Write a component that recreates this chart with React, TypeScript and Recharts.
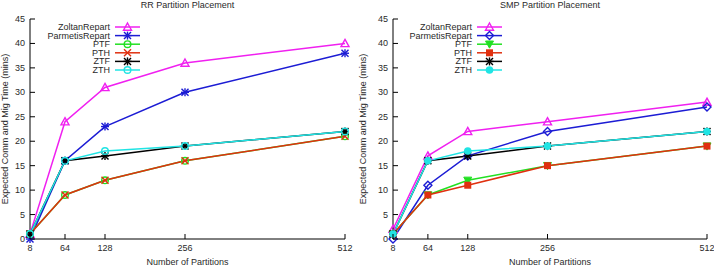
import React from "react";
import { LineChart, Line, XAxis, YAxis } from "recharts";

// partition counts on the x axis
const partitions = [8, 64, 128, 256, 512];
const yTicks = [0, 5, 10, 15, 20, 25, 30, 35, 40, 45];
const seriesNames = ["ZoltanRepart", "ParmetisRepart", "PTF", "PTH", "ZTF", "ZTH"];

// RR placement, minutes
const rrZoltan = [1, 24, 31, 36, 40];
const rrParmetis = [0, 16, 23, 30, 38];
const rrPTF = [1, 9, 12, 16, 21];
const rrPTH = [1, 9, 12, 16, 21];
const rrZTF = [1, 16, 17, 19, 22];
const rrZTH = [1, 16, 18, 19, 22];

// SMP placement, minutes
const smpZoltan = [2, 17, 22, 24, 28];
const smpParmetis = [0, 11, 17, 22, 27];
const smpPTF = [1, 9, 12, 15, 19];
const smpPTH = [1, 9, 11, 15, 19];
const smpZTF = [1, 16, 17, 19, 22];
const smpZTH = [1, 16, 18, 19, 22];

const colors = ["#f020f0", "#1c1cd4", "#22e022", "#e0300f", "#000000", "#20e4e4"];
const rrShapes = ["triangle", "star", "circle", "cross", "star", "circle"];
const smpShapes = ["triangle", "diamond", "triDownFill", "squareFill", "star", "circleFill"];

const FONT = "'Liberation Sans', Arial, sans-serif";
const TEXT = "#2a2a2a";

function buildRows(series: number[][]) {
  return partitions.map((p, i) => {
    const row: Record<string, number> = { p };
    seriesNames.forEach((name, k) => {
      row[name] = series[k][i];
    });
    return row;
  });
}

const rrData = buildRows([rrZoltan, rrParmetis, rrPTF, rrPTH, rrZTF, rrZTH]);
const smpData = buildRows([smpZoltan, smpParmetis, smpPTF, smpPTH, smpZTF, smpZTH]);

function Marker({ shape, cx, cy, color }: { shape: string; cx: number; cy: number; color: string }) {
  const r = 4;
  const sw = 1.4;
  switch (shape) {
    case "triangle":
      return (
        <polygon
          points={`${cx},${cy - r} ${cx + r},${cy + r * 0.8} ${cx - r},${cy + r * 0.8}`}
          fill="none"
          stroke={color}
          strokeWidth={sw}
        />
      );
    case "triDownFill":
      return (
        <polygon
          points={`${cx},${cy + r} ${cx + r},${cy - r * 0.8} ${cx - r},${cy - r * 0.8}`}
          fill={color}
          stroke={color}
          strokeWidth={1}
        />
      );
    case "diamond":
      return (
        <polygon
          points={`${cx},${cy - r} ${cx + r},${cy} ${cx},${cy + r} ${cx - r},${cy}`}
          fill="none"
          stroke={color}
          strokeWidth={sw}
        />
      );
    case "squareFill":
      return <rect x={cx - 3.5} y={cy - 3.5} width={7} height={7} fill={color} />;
    case "circle":
      return <circle cx={cx} cy={cy} r={3.3} fill="none" stroke={color} strokeWidth={sw} />;
    case "circleFill":
      return <circle cx={cx} cy={cy} r={3.8} fill={color} />;
    case "cross":
      return (
        <g stroke={color} strokeWidth={sw}>
          <line x1={cx - 3.5} y1={cy - 3.5} x2={cx + 3.5} y2={cy + 3.5} />
          <line x1={cx - 3.5} y1={cy + 3.5} x2={cx + 3.5} y2={cy - 3.5} />
        </g>
      );
    default:
      // asterisk: plus over cross
      return (
        <g stroke={color} strokeWidth={sw}>
          <line x1={cx - 3.5} y1={cy - 3.5} x2={cx + 3.5} y2={cy + 3.5} />
          <line x1={cx - 3.5} y1={cy + 3.5} x2={cx + 3.5} y2={cy - 3.5} />
          <line x1={cx - 4} y1={cy} x2={cx + 4} y2={cy} />
          <line x1={cx} y1={cy - 4} x2={cx} y2={cy + 4} />
        </g>
      );
  }
}

const XTick = (props: any) => {
  const { x, y, payload } = props;
  return (
    <g>
      <line x1={x} x2={x} y1={y} y2={y - 5} stroke="#000" />
      <text x={x} y={y + 12} textAnchor="middle" fontSize={9} fontFamily={FONT} fill={TEXT}>
        {payload.value}
      </text>
    </g>
  );
};

const YTick = (props: any) => {
  const { x, y, payload } = props;
  return (
    <g>
      <line x1={x} x2={x + 5} y1={y} y2={y} stroke="#000" />
      <text x={x - 5} y={y + 3} textAnchor="end" fontSize={9} fontFamily={FONT} fill={TEXT}>
        {payload.value}
      </text>
    </g>
  );
};

function Panel({
  title,
  data,
  shapes,
  axisWidth,
  rightMargin,
  labelOffset,
  legendRight,
}: {
  title: string;
  data: Record<string, number>[];
  shapes: string[];
  axisWidth: number;
  rightMargin: number;
  labelOffset: number;
  legendRight: number;
}) {
  const width = 357;
  const height = 267;
  const plotCenter = axisWidth + (width - axisWidth - rightMargin) / 2;
  return (
    <div style={{ position: "relative", width, height }}>
      <div
        style={{
          position: "absolute",
          top: 0,
          left: plotCenter - 100,
          width: 200,
          textAlign: "center",
          fontSize: 9,
          lineHeight: "11px",
          fontFamily: FONT,
          color: TEXT,
        }}
      >
        {title}
      </div>
      <LineChart
        width={width}
        height={height}
        data={data}
        margin={{ top: 19, right: rightMargin, left: 0, bottom: 0 }}
      >
        <XAxis
          dataKey="p"
          type="number"
          domain={[8, 512]}
          ticks={partitions}
          interval={0}
          height={28}
          tickSize={0}
          tickMargin={0}
          tickLine={false}
          axisLine={{ stroke: "#000" }}
          tick={<XTick />}
          label={{
            content: (p: any) => (
              <text
                x={p.viewBox.x + p.viewBox.width / 2}
                y={p.viewBox.y + 26}
                textAnchor="middle"
                fontSize={9}
                fontFamily={FONT}
                fill={TEXT}
              >
                Number of Partitions
              </text>
            ),
          }}
        />
        <YAxis
          type="number"
          domain={[0, 45]}
          ticks={yTicks}
          interval={0}
          width={axisWidth}
          tickSize={0}
          tickMargin={0}
          tickLine={false}
          axisLine={{ stroke: "#000" }}
          tick={<YTick />}
          label={{
            content: (p: any) => {
              const cx = p.viewBox.x + labelOffset;
              const cy = p.viewBox.y + p.viewBox.height / 2;
              return (
                <text
                  x={cx}
                  y={cy}
                  transform={`rotate(-90, ${cx}, ${cy})`}
                  textAnchor="middle"
                  dominantBaseline="central"
                  fontSize={9}
                  fontFamily={FONT}
                  fill={TEXT}
                >
                  Expected Comm and Mig Time (mins)
                </text>
              );
            },
          }}
        />
        {seriesNames.map((name, k) => (
          <Line
            key={name}
            type="linear"
            dataKey={name}
            stroke={colors[k]}
            strokeWidth={1.5}
            isAnimationActive={false}
            activeDot={false}
            dot={(d: any) => (
              <Marker key={`${name}-${d.index}`} shape={shapes[k]} cx={d.cx} cy={d.cy} color={colors[k]} />
            )}
          />
        ))}
      </LineChart>
      <svg
        width={width}
        height={height}
        style={{ position: "absolute", left: 0, top: 0, pointerEvents: "none" }}
      >
        {seriesNames.map((name, k) => {
          const y = 27 + k * 8.6;
          return (
            <g key={name}>
              <text
                x={legendRight}
                y={y}
                textAnchor="end"
                dominantBaseline="central"
                fontSize={9}
                fontFamily={FONT}
                fill={TEXT}
              >
                {name}
              </text>
              <line x1={legendRight + 5} x2={legendRight + 30} y1={y} y2={y} stroke={colors[k]} strokeWidth={1.5} />
              <Marker shape={shapes[k]} cx={legendRight + 17.5} cy={y} color={colors[k]} />
            </g>
          );
        })}
      </svg>
    </div>
  );
}

export default function App() {
  return (
    <div
      style={{
        position: "absolute",
        left: 0,
        top: 0,
        width: 714,
        height: 267,
        display: "flex",
        background: "#fff",
        overflow: "hidden",
      }}
    >
      <Panel
        title="RR Partition Placement"
        data={rrData}
        shapes={rrShapes}
        axisWidth={30}
        rightMargin={12}
        labelOffset={5}
        legendRight={110}
      />
      <Panel
        title="SMP Partition Placement"
        data={smpData}
        shapes={smpShapes}
        axisWidth={36}
        rightMargin={7}
        labelOffset={6}
        legendRight={115}
      />
    </div>
  );
}
